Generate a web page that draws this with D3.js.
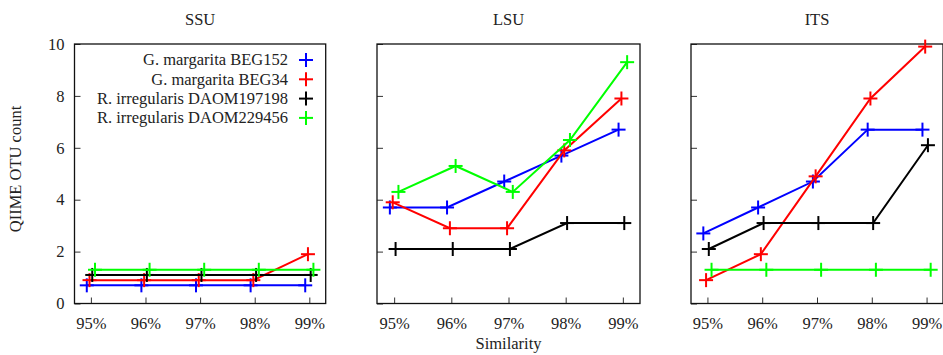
<!DOCTYPE html>
<html>
<head>
<meta charset="utf-8">
<script src="https://cdn.jsdelivr.net/npm/d3@7"></script>
<style>
    body { margin: 0; background: #fff; }
    svg { display: block; }
    text { font-family: "Liberation Serif", "DejaVu Serif", serif; font-size: 16.5px; fill: #222; }
</style>
</head>
<body>
<svg id="chart" width="943" height="355"></svg>
<script>
// данные
const similarity = [95, 96, 97, 98, 99]
const similarityLabels = ['95%', '96%', '97%', '98%', '99%']
const yTicks = [0, 2, 4, 6, 8, 10]
const panelTitles = ['SSU', 'LSU', 'ITS']
const seriesNames = ['G. margarita BEG152', 'G. margarita BEG34', 'R. irregularis DAOM197198', 'R. irregularis DAOM229456']

// counts per series (BEG152, BEG34, DAOM197198, DAOM229456)
const ssuCounts = [
    [1, 1, 1, 1, 1],
    [1, 1, 1, 1, 2],
    [1, 1, 1, 1, 1],
    [1, 1, 1, 1, 1]
]
const lsuCounts = [
    [4, 4, 5, 6, 7],
    [4, 3, 3, 6, 8],
    [2, 2, 2, 3, 3],
    [4, 5, 4, 6, 9]
]
const itsCounts = [
    [3, 4, 5, 7, 7],
    [1, 2, 5, 8, 10],
    [2, 3, 3, 3, 6],
    [1, 1, 1, 1, 1]
]
// small shifts so overlapping series stay visible
const xShift = [-0.075, -0.025, 0.025, 0.075]
const yShift = [-0.3, -0.1, 0.1, 0.3]

const colors = ['#0000ff', '#ff0000', '#000000', '#00ff00']

const svg = d3.select('#chart')

const plotTop = 44, plotBottom = 303.5
const panels = [
    {title: panelTitles[0], counts: ssuCounts, x0: 74.5, x1: 325.7},
    {title: panelTitles[1], counts: lsuCounts, x0: 377, x1: 640},
    {title: panelTitles[2], counts: itsCounts, x0: 691, x1: 943}
]

const y = d3.scaleLinear().domain([0, 10]).range([plotBottom, plotTop])

const cross = (g, cx, cy, color, r = 7) => {
    g.append('line').attr('x1', cx - r).attr('x2', cx + r).attr('y1', cy).attr('y2', cy)
        .attr('stroke', color).attr('stroke-width', 2)
    g.append('line').attr('x1', cx).attr('x2', cx).attr('y1', cy - r).attr('y2', cy + r)
        .attr('stroke', color).attr('stroke-width', 2)
}

panels.forEach((p, pi) => {
    const x = d3.scaleLinear().domain([94.7, 99.3]).range([p.x0, p.x1])
    const g = svg.append('g')

    // оси
    const yAxis = d3.axisLeft(y).tickValues(yTicks).tickSize(-6).tickPadding(10)
        .tickFormat(d => pi === 0 ? d : '')
    const yG = g.append('g').attr('transform', `translate(${p.x0},0)`).call(yAxis)
    const xAxis = d3.axisBottom(x).tickValues(similarity).tickSize(-6).tickPadding(11)
        .tickFormat((d, i) => similarityLabels[i])
    const xG = g.append('g').attr('transform', `translate(0,${plotBottom})`).call(xAxis)
    ;[yG, xG].forEach(a => {
        a.select('.domain').remove()
        a.selectAll('.tick line').attr('stroke', '#333').attr('stroke-width', 1)
        a.selectAll('text').attr('font-family', null).attr('font-size', null)
    })
    xG.selectAll('.tick text').attr('dy', '0.9em')

    g.append('rect')
        .attr('x', p.x0).attr('y', plotTop)
        .attr('width', p.x1 - p.x0).attr('height', plotBottom - plotTop)
        .attr('fill', 'none').attr('stroke', '#111').attr('stroke-width', 1.3)

    g.append('text').attr('x', (p.x0 + p.x1) / 2).attr('y', 25)
        .attr('text-anchor', 'middle').text(p.title)

    const line = d3.line().x(d => x(d.x)).y(d => y(d.y))

    p.counts.forEach((vals, si) => {
        const pts = vals.map((v, i) => ({x: similarity[i] + xShift[si], y: v + yShift[si]}))
        g.append('path').datum(pts)
            .attr('fill', 'none').attr('stroke', colors[si]).attr('stroke-width', 2)
            .attr('d', line)
        const mk = g.append('g')
        pts.forEach(d => cross(mk, x(d.x), y(d.y), colors[si]))
    })
})

// легенда
const legend = svg.append('g')
seriesNames.forEach((name, i) => {
    const ly = 60 + i * 19.3
    legend.append('text').attr('x', 288).attr('y', ly)
        .attr('text-anchor', 'end').attr('dy', '0.33em').text(name)
    cross(legend, 306, ly, colors[i])
})

svg.append('text')
    .attr('transform', 'translate(21,169) rotate(-90)')
    .attr('text-anchor', 'middle').text('QIIME OTU count')

svg.append('text').attr('x', 508.5).attr('y', 349)
    .attr('text-anchor', 'middle').text('Similarity')
</script>
</body>
</html>
